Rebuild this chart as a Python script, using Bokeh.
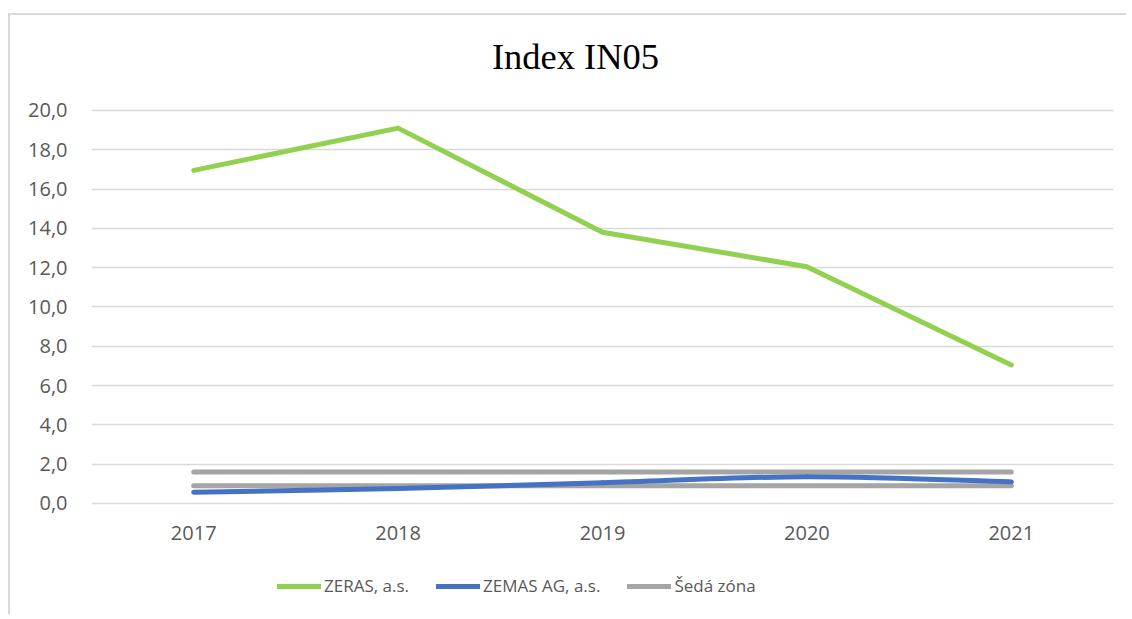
from bokeh.plotting import figure
from bokeh.models import Range1d, FixedTicker, Legend, LegendItem
from bokeh.core.properties import value
from bokeh.embed import file_html
from bokeh.resources import INLINE

# ---- data ----
years = ["2017", "2018", "2019", "2020", "2021"]
zeras = [16.95, 19.1, 13.8, 12.05, 7.05]
zemas = [0.57, 0.76, 1.06, 1.36, 1.1]
seda_zona_horni = [1.6, 1.6, 1.6, 1.6, 1.6]
seda_zona_dolni = [0.9, 0.9, 0.9, 0.9, 0.9]
y_ticks = [0, 2, 4, 6, 8, 10, 12, 14, 16, 18, 20]
y_labels = ["0,0", "2,0", "4,0", "6,0", "8,0", "10,0", "12,0", "14,0", "16,0", "18,0", "20,0"]
title_text = "Index IN05"
names = ["ZERAS, a.s.", "ZEMAS AG, a.s.", "Šedá zóna"]

GREEN = "#92d050"
BLUE = "#4472c4"
GRAY = "#a5a5a5"
TXT = "#595959"
FONT = "Open Sans"

xs = [i + 0.5 for i in range(len(years))]

# The frame spans the full canvas height so that the title, the category
# labels and the legend (all drawn as annotations/text) are not clipped.
p = figure(width=1118, height=601,
           x_range=Range1d(0, len(years)), y_range=Range1d(-5.75, 24.83),
           output_backend="svg", toolbar_location=None,
           min_border_left=81, min_border_right=15,
           min_border_top=0, min_border_bottom=0,
           outline_line_color=None,
           background_fill_color="white", border_fill_color="white")
p.title.visible = False
p.styles = {"margin-left": "10px", "margin-top": "15px",
            "box-shadow": "-2px -2px 0 0 #d9d9d9"}

p.xaxis.visible = False
p.yaxis.axis_line_color = None
p.yaxis.major_tick_line_color = None
p.yaxis.minor_tick_line_color = None
p.yaxis.major_tick_out = 0
p.yaxis.major_tick_in = 0
p.yaxis.major_label_text_color = TXT
p.yaxis.major_label_text_font = FONT
p.yaxis.major_label_text_font_size = "20px"
p.yaxis.ticker = FixedTicker(ticks=y_ticks)
p.yaxis.major_label_overrides = {t: l for t, l in zip(y_ticks, y_labels)}
p.yaxis.major_label_standoff = 24

p.xgrid.grid_line_color = None
p.ygrid.ticker = FixedTicker(ticks=y_ticks)
p.ygrid.grid_line_color = "#d9d9d9"
p.ygrid.grid_line_width = 1.5

# chart title, above the top gridline
p.text(x=[len(years) / 2], y=[y_ticks[-1]], text=[title_text],
       x_offset=-27, y_offset=-54,
       text_align="center", text_baseline="middle",
       text_color="black", text_font=value("Liberation Serif"),
       text_font_size="36.5px")

# category labels under the zero line
p.text(x=xs, y=[y_ticks[0]] * len(xs), text=years, y_offset=30,
       text_align="center", text_baseline="middle",
       text_color=TXT, text_font=value(FONT), text_font_size="20px")

LW = 5
g1 = p.line(xs, seda_zona_horni, line_color=GRAY, line_width=LW, line_cap="round")
g2 = p.line(xs, seda_zona_dolni, line_color=GRAY, line_width=LW, line_cap="round")

# blue smoothed line (Catmull-Rom -> cubic Bezier)
n = len(xs)
x0, y0, x1, y1, cx0, cy0, cx1, cy1 = [], [], [], [], [], [], [], []
for i in range(n - 1):
    im = max(i - 1, 0)
    ip2 = min(i + 2, n - 1)
    x0.append(xs[i]); y0.append(zemas[i])
    x1.append(xs[i + 1]); y1.append(zemas[i + 1])
    cx0.append(xs[i] + (xs[i + 1] - xs[im]) / 6)
    cy0.append(zemas[i] + (zemas[i + 1] - zemas[im]) / 6)
    cx1.append(xs[i + 1] - (xs[ip2] - xs[i]) / 6)
    cy1.append(zemas[i + 1] - (zemas[ip2] - zemas[i]) / 6)
p.bezier(x0=x0, y0=y0, x1=x1, y1=y1, cx0=cx0, cy0=cy0, cx1=cx1, cy1=cy1,
         line_color=BLUE, line_width=LW, line_cap="round")
# legend proxy for the smoothed line (no visible data)
blue_leg = p.line(x=[float("nan")], y=[float("nan")], line_color=BLUE,
                  line_width=LW, line_cap="round")

green = p.line(xs, zeras, line_color=GREEN, line_width=LW, line_cap="round", line_join="round")

legend = Legend(items=[LegendItem(label=names[0], renderers=[green]),
                       LegendItem(label=names[1], renderers=[blue_leg]),
                       LegendItem(label=names[2], renderers=[g1])],
                location=(186, 19), orientation="horizontal",
                glyph_width=44, glyph_height=20, label_height=20,
                label_standoff=3, spacing=27,
                padding=0, margin=0, border_line_color=None,
                background_fill_alpha=0,
                label_text_font=FONT, label_text_font_size="17px",
                label_text_color=TXT)
p.add_layout(legend, "center")

open("out.html", "w").write(file_html(p, INLINE))
